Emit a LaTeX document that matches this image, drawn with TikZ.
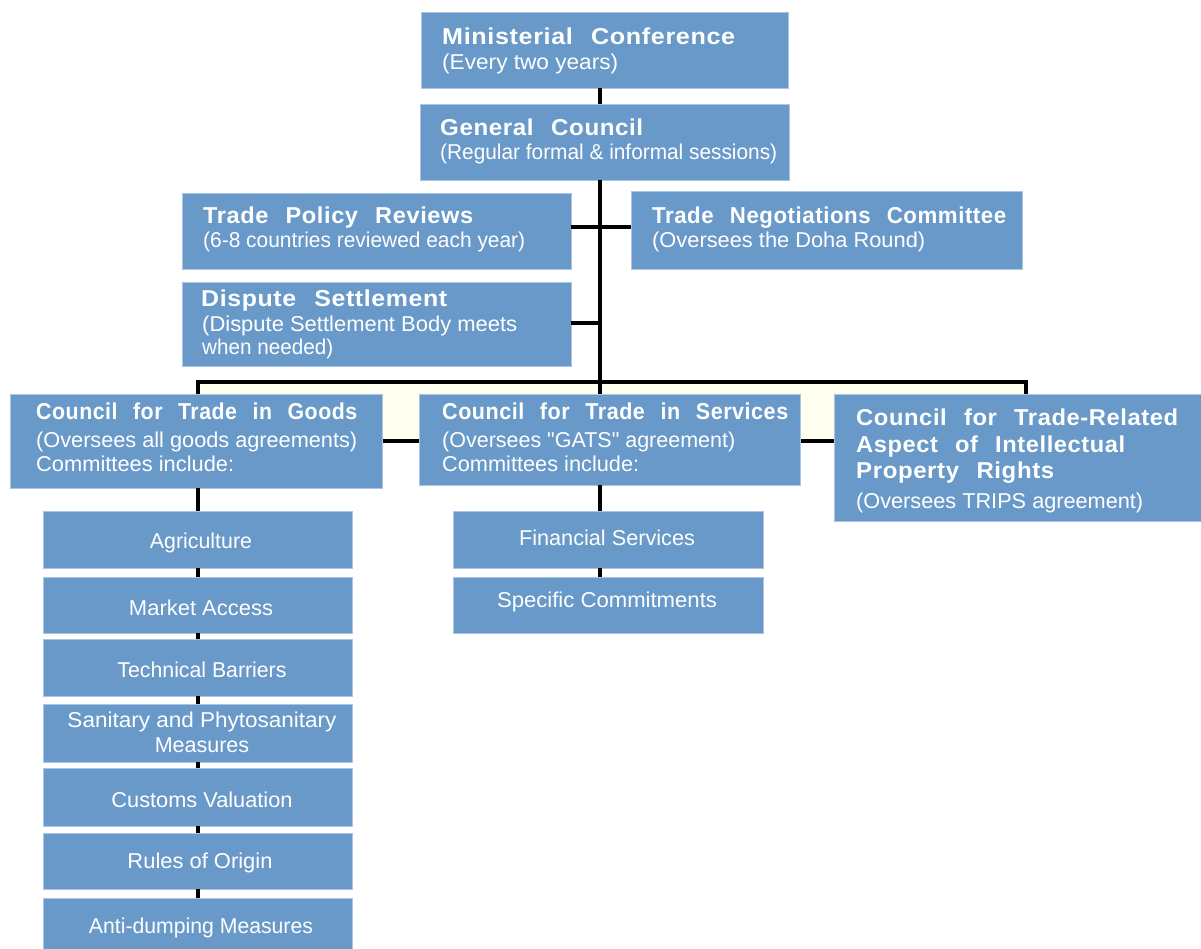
\documentclass[tikz,border=0pt]{standalone}
\usepackage{fontspec}
\usepackage{graphicx}
\setmainfont{Liberation Sans}[Ligatures=TeXOff]
\newfontfamily\headfont{Liberation Sans}[LetterSpace=2.5, WordSpace=2.4]
% set a line of text to an exact width, keeping its height
\newcommand\fitline[2]{\resizebox{#1pt}{\height}{#2}}
% a blue panel given by its top-left and bottom-right corners
\newcommand\panel[5]{\node[box, anchor=north west, minimum width=#4pt-#2pt, minimum height=#5pt-#3pt] (#1) at (#2,#3) {};}

\definecolor{boxblue}{RGB}{104,153,201}
\definecolor{boxedge}{RGB}{170,198,228}
\definecolor{cream}{RGB}{255,255,240}

\tikzset{
  box/.style={draw=boxedge, line width=1pt, fill=boxblue, inner sep=0pt, outer sep=0pt},
  link/.style={line width=4pt, black},
  head/.style={anchor=base west, inner sep=0pt, text=white, font=\headfont\bfseries\fontsize{23}{26}\selectfont},
  sub/.style={anchor=base west, inner sep=0pt, text=white, font=\fontsize{21.5}{25}\selectfont},
  item/.style={anchor=base, inner sep=0pt, text=white, font=\fontsize{21.5}{25}\selectfont},
}

\begin{document}
\begin{tikzpicture}[x=1pt, y=-1pt]
\useasboundingbox (0,0) rectangle (1201,948);
\clip (0,0) rectangle (1201,948);
\fill[white] (0,0) rectangle (1201,948);

% guide coordinates for the connector runs
\coordinate (trunk) at (600,0);
\coordinate (goodsx) at (198,0);
\coordinate (row1) at (0,227);
\coordinate (row2) at (0,323);

% bus joining the three councils
\node[draw=black, fill=cream, line width=4pt, anchor=north west, inner sep=0pt, outer sep=0pt,
      minimum width=828pt, minimum height=59pt] (bus) at (198,382) {};

% panels
\panel{mc}{421}{12}{788}{88}
\panel{gc}{420}{104}{789}{180}
\panel{tpr}{182}{193}{571}{269}
\panel{tnc}{631}{191}{1022}{269}
\panel{ds}{182}{282}{571}{366}
\panel{goods}{10}{394}{382}{488}
\panel{serv}{419}{394}{800}{485}
\panel{trips}{834}{394}{1202}{521}
\panel{agri}{43}{511}{352}{568}
\panel{mkt}{43}{577}{352}{633}
\panel{tbt}{43}{639}{352}{696}
\panel{sps}{43}{704}{352}{762}
\panel{cust}{43}{768}{352}{826}
\panel{roo}{43}{833}{352}{889}
\panel{anti}{43}{898}{352}{965}
\panel{fin}{453}{511}{763}{568}
\panel{spec}{453}{577}{763}{633}

% connectors
\draw[link] (mc.south -| trunk) -- (gc.north -| trunk);
\draw[link] (gc.south -| trunk) -- (serv.north -| trunk);
\draw[link] (tpr.east |- row1) -- (tnc.west |- row1);
\draw[link] (ds.east |- row2) -- (row2 -| trunk);
\draw[link] (serv.south -| trunk) -- (fin.north -| trunk);
\draw[link] (fin.south -| trunk) -- (spec.north -| trunk);
\draw[link] (goods.south -| goodsx) -- (agri.north -| goodsx);
\draw[link] (agri.south -| goodsx) -- (mkt.north -| goodsx);
\draw[link] (mkt.south -| goodsx) -- (tbt.north -| goodsx);
\draw[link] (tbt.south -| goodsx) -- (sps.north -| goodsx);
\draw[link] (sps.south -| goodsx) -- (cust.north -| goodsx);
\draw[link] (cust.south -| goodsx) -- (roo.north -| goodsx);
\draw[link] (roo.south -| goodsx) -- (anti.north -| goodsx);

% texts of the upper panels
\node[head] (mct) at (442,44) {\fitline{293}{Ministerial Conference}};
\node[sub]  (mcs) at (442,69) {\fitline{176}{(Every two years)}};
\node[head] (gct) at (440,135) {\fitline{203}{General Council}};
\node[sub]  (gcs) at (440,159) {\fitline{337}{(Regular formal \& informal sessions)}};
\node[head] (tprt) at (203,223) {\fitline{270}{Trade Policy Reviews}};
\node[sub]  (tprs) at (203,247) {\fitline{322}{(6-8 countries reviewed each year)}};
\node[head] (tnct) at (652,223) {\fitline{354}{Trade Negotiations Committee}};
\node[sub]  (tncs) at (652,247) {\fitline{273}{(Oversees the Doha Round)}};
\node[head] (dst) at (201,306) {\fitline{246}{Dispute Settlement}};
\node[sub]  (dss1) at (202,331) {\fitline{315}{(Dispute Settlement Body meets}};
\node[sub]  (dss2) at (202,354) {\fitline{131}{when needed)}};

% texts of the councils
\node[head] (goodst) at (36,419) {\fitline{321}{Council for Trade in Goods}};
\node[sub]  (goodss1) at (36,447) {\fitline{321}{(Oversees all goods agreements)}};
\node[sub]  (goodss2) at (36,471) {\fitline{198}{Committees include:}};
\node[head] (servt) at (442,419) {\fitline{346}{Council for Trade in Services}};
\node[sub]  (servs1) at (442,447) {\fitline{293}{(Oversees "GATS" agreement)}};
\node[sub]  (servs2) at (442,471) {\fitline{197}{Committees include:}};
\node[head] (tript1) at (856,425) {\fitline{322}{Council for Trade-Related}};
\node[head] (tript2) at (856,452) {\fitline{269}{Aspect of Intellectual}};
\node[head] (tript3) at (856,478) {\fitline{198}{Property Rights}};
\node[sub]  (trips1) at (856,508) {\fitline{287}{(Oversees TRIPS agreement)}};

% committee texts
\node[item] (agrit) at (201,548) {\fitline{102}{Agriculture}};
\node[item] (mktt)  at (201,615) {\fitline{144}{Market Access}};
\node[item] (tbtt)  at (202,677) {\fitline{169}{Technical Barriers}};
\node[item] (spst1) at (202,727) {\fitline{269}{Sanitary and Phytosanitary}};
\node[item] (spst2) at (202,752) {Measures};
\node[item] (custt) at (202,807) {\fitline{181}{Customs Valuation}};
\node[item] (toot)  at (200,868) {\fitline{145}{Rules of Origin}};
\node[item] (antit) at (201,933) {\fitline{224}{Anti-dumping Measures}};
\node[item] (fint)  at (607,545) {\fitline{176}{Financial Services}};
\node[item] (spect) at (607,607) {\fitline{220}{Specific Commitments}};
\end{tikzpicture}
\end{document}
